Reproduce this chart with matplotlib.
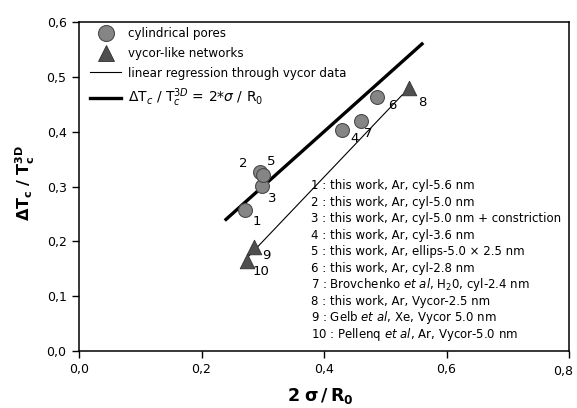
import numpy as np
import matplotlib
matplotlib.use("Agg")
import matplotlib.pyplot as plt
from matplotlib.ticker import FixedLocator
from matplotlib.lines import Line2D

plt.rcParams['font.family'] = ['DejaVu Sans']
plt.rcParams['mathtext.fontset'] = 'dejavusans'

# ---- data ----
cyl_ids = ['1', '2', '3', '4', '5', '6', '7']
cyl_x = [0.271, 0.295, 0.299, 0.430, 0.300, 0.486, 0.460]
cyl_y = [0.257, 0.327, 0.301, 0.403, 0.321, 0.463, 0.420]

vyc_ids = ['8', '9', '10']
vyc_x = [0.539, 0.285, 0.275]
vyc_y = [0.480, 0.189, 0.164]

fit_x_range = [0.274, 0.528]
theory_x_range = [0.24, 0.56]

x_ticks = [0.0, 0.2, 0.4, 0.6, 0.8]
y_ticks = [0.0, 0.1, 0.2, 0.3, 0.4, 0.5, 0.6]

# label offsets (pixels) of point numbers
cyl_offsets = [(12, -11), (-16, 8), (10, -13), (12, -8), (8, 13), (16, -8), (7, -13)]
vyc_offsets = [(13, -15), (13, -8), (14, -10)]

legend_notes = [
    "1 : this work, Ar, cyl-5.6 nm",
    "2 : this work, Ar, cyl-5.0 nm",
    "3 : this work, Ar, cyl-5.0 nm + constriction",
    "4 : this work, Ar, cyl-3.6 nm",
    "5 : this work, Ar, ellips-5.0 \u00d7 2.5 nm",
    "6 : this work, Ar, cyl-2.8 nm",
    r"7 : Brovchenko $\it{et\ al}$, H$_2$0, cyl-2.4 nm",
    "8 : this work, Ar, Vycor-2.5 nm",
    r"9 : Gelb $\it{et\ al}$, Xe, Vycor 5.0 nm",
    r"10 : Pellenq $\it{et\ al}$, Ar, Vycor-5.0 nm",
]


def comma(v):
    return f"{v:.1f}".replace('.', ',')


fig = plt.figure(figsize=(5.77, 4.08), dpi=100)
ax = fig.add_axes([79/577, 1 - 351/408, 490/577, 329/408])

circ_face = '#858585'
circ_edge = '#4a4a4a'
tri_face = '#4f4f4f'

# regression through vycor data
coef = np.polyfit(vyc_x, vyc_y, 1)
fx = np.array(fit_x_range)
ax.plot(fx, np.polyval(coef, fx), color='black', lw=0.8, zorder=2)

# theory line
tx = np.array(theory_x_range)
ax.plot(tx, tx, color='black', lw=2.4, zorder=2)

ax.scatter(cyl_x, cyl_y, s=10.0**2, marker='o', facecolor=circ_face,
           edgecolor=circ_edge, linewidth=0.8, zorder=3)
ax.scatter(vyc_x, vyc_y, s=10.5**2, marker='^', facecolor=tri_face,
           edgecolor='#303030', linewidth=0.6, zorder=3)

for lab, x, y, off in zip(cyl_ids, cyl_x, cyl_y, cyl_offsets):
    ax.annotate(lab, (x, y), xytext=off, textcoords='offset pixels',
                ha='center', va='center', fontsize=9.5, zorder=4)
for lab, x, y, off in zip(vyc_ids, vyc_x, vyc_y, vyc_offsets):
    ax.annotate(lab, (x, y), xytext=off, textcoords='offset pixels',
                ha='center', va='center', fontsize=9.5, zorder=4)

# notes block
for i, t in enumerate(legend_notes):
    ax.text(0.474, 0.503 - i * 0.0503, t, transform=ax.transAxes, fontsize=8.5,
            ha='left', va='center')

# legend
handles = [
    Line2D([], [], marker='o', ls='none', ms=11.5, mfc=circ_face, mec=circ_edge, mew=0.8),
    Line2D([], [], marker='^', ls='none', ms=11.5, mfc=tri_face, mec='#303030', mew=0.6),
    Line2D([], [], color='black', lw=0.8),
    Line2D([], [], color='black', lw=2.4),
]
labels = ['cylindrical pores', 'vycor-like networks',
          'linear regression through vycor data',
          r'$\Delta$T$_c$ / T$_c^{3D}$ = 2*$\sigma$ / R$_0$']
leg = ax.legend(handles, labels, loc='upper left', bbox_to_anchor=(0.012, 1.0),
                frameon=False, fontsize=8.6, handlelength=2.6, handletextpad=0.6,
                labelspacing=0.55, borderpad=0.25, borderaxespad=0.2)
for txt in leg.get_texts()[3:]:
    txt.set_fontsize(10)

ax.set_xlim(x_ticks[0], x_ticks[-1])
ax.set_ylim(y_ticks[0], y_ticks[-1])
ax.xaxis.set_major_locator(FixedLocator(x_ticks))
ax.yaxis.set_major_locator(FixedLocator(y_ticks))
# last x tick label drawn separately so it stays inside the figure
ax.set_xticklabels([comma(v) for v in x_ticks[:-1]] + [''])
ax.set_yticklabels([comma(v) for v in y_ticks])
ax.annotate(comma(x_ticks[-1]), xy=(x_ticks[-1], 0), xycoords=('data', 'axes fraction'),
            xytext=(-6, -14), textcoords='offset pixels', ha='center', va='top',
            fontsize=9, annotation_clip=False)
ax.tick_params(direction='out', length=5, width=1, labelsize=9, pad=4)
for s in ax.spines.values():
    s.set_linewidth(1.1)

ax.set_xlabel(r'$\mathbf{2}$ $\mathbf{\sigma}$$\mathbf{\,/\,R_0}$', fontsize=12.5)
ax.xaxis.set_label_coords(0.492, -0.105)
ax.set_ylabel(r'$\mathbf{\Delta T_c\ /\ T_c^{3D}}$', fontsize=11.5)
ax.yaxis.set_label_coords(-0.085, 0.51)

fig.savefig('out.png', dpi=100)
